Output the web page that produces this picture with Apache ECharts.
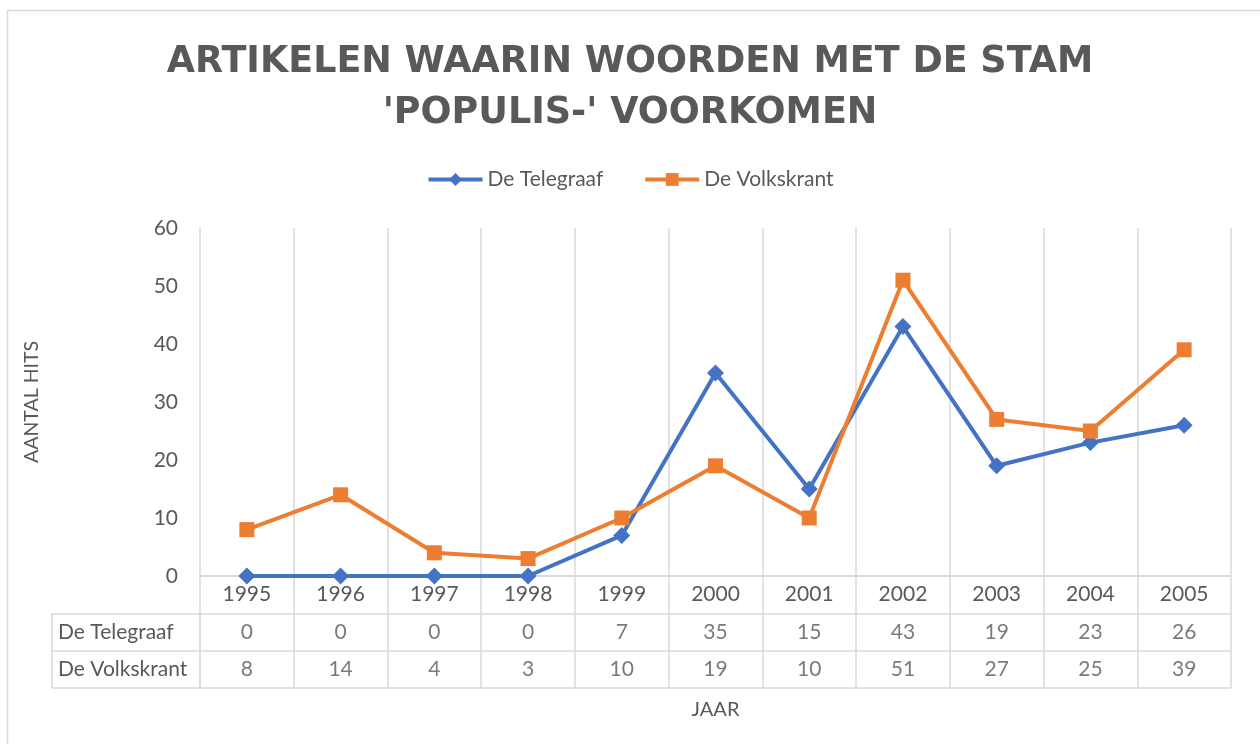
<!DOCTYPE html>
<html>
<head>
<meta charset="utf-8">
<script src="https://cdn.jsdelivr.net/npm/echarts@6/dist/echarts.min.js"></script>
<style>html,body{margin:0;padding:0;background:#fff}#c{width:1260px;height:744px}</style>
</head>
<body>
<div id="c"></div>
<script>
const years = ['1995','1996','1997','1998','1999','2000','2001','2002','2003','2004','2005'];
const telegraaf = [0,0,0,0,7,35,15,43,19,23,26];
const volkskrant = [8,14,4,3,10,19,10,51,27,25,39];
const seriesNames = ['De Telegraaf','De Volkskrant'];
const yTicks = {min:0, max:60, interval:10};
const titleText = "ARTIKELEN WAARIN WOORDEN MET DE STAM\n'POPULIS-' VOORKOMEN";

const FONT = 'Lato';
const TXT = '#595959';
const GRID = '#d9d9d9';
const BLUE = '#4472C4';
const ORANGE = '#ED7D31';
const FS = 21;

const chart = echarts.init(document.getElementById('c'), null, {renderer:'canvas'});
const tableTop = 576, tableH = 112;
chart.setOption({
  animation:false,
  backgroundColor:'#fff',
  textStyle:{fontFamily:FONT, color:TXT},
  graphic:[{type:'rect', shape:{x:7.5,y:10.5,width:1300,height:800}, style:{fill:'none', stroke:'#d9d9d9', lineWidth:1.5}, silent:true}],
  title:{text:titleText, left:'center', top:32, textStyle:{fontFamily:'DejaVu Sans', fontSize:36.5, fontWeight:'bold', color:TXT, lineHeight:51}},
  legend:{top:164, left:'center', itemWidth:54, itemHeight:16, itemGap:40,
    lineStyle:{width:4},
    textStyle:{fontFamily:FONT, fontSize:FS, color:TXT}, data:seriesNames},
  grid:[
    {left:200, right:29, top:228, height:348},
    {left:200, right:29, top:tableTop, height:tableH},
    {left:52, width:148, top:tableTop + tableH/3, height:tableH*2/3}
  ],
  xAxis:[
    {type:'category', gridIndex:0, data:years, boundaryGap:true,
      axisLine:{show:true, lineStyle:{color:GRID, width:1.5}}, axisTick:{show:false},
      axisLabel:{fontFamily:FONT, fontSize:FS, color:TXT, margin:8},
      splitLine:{show:true, lineStyle:{color:GRID, width:1.5}}},
    {type:'category', gridIndex:1, data:years, boundaryGap:true,
      axisLine:{show:false}, axisTick:{show:false}, axisLabel:{show:false},
      splitLine:{show:true, lineStyle:{color:GRID, width:1.5}},
      name:'JAAR', nameLocation:'middle', nameGap:12,
      nameTextStyle:{fontFamily:FONT, fontSize:20, color:TXT}},
    {type:'value', gridIndex:2, min:0, max:1, interval:1,
      axisLine:{show:false}, axisTick:{show:false}, axisLabel:{show:false},
      splitLine:{show:true, lineStyle:{color:GRID, width:1.5}}}
  ],
  yAxis:[
    {type:'value', gridIndex:0, min:yTicks.min, max:yTicks.max, interval:yTicks.interval,
      axisLine:{show:false}, axisTick:{show:false}, splitLine:{show:false},
      axisLabel:{fontFamily:FONT, fontSize:FS, color:TXT, margin:22},
      name:'AANTAL HITS', nameLocation:'middle', nameRotate:90, nameGap:158,
      nameTextStyle:{fontFamily:FONT, fontSize:19.5, color:TXT}},
    {type:'value', gridIndex:1, min:0, max:3, interval:1,
      axisLine:{show:false}, axisTick:{show:false}, axisLabel:{show:false},
      splitLine:{show:true, lineStyle:{color:GRID, width:1.5}}},
    {type:'category', gridIndex:2, data:seriesNames.slice().reverse(), boundaryGap:true,
      axisLine:{show:false}, axisTick:{show:false},
      axisLabel:{inside:true, margin:6, fontFamily:FONT, fontSize:FS, color:TXT},
      splitLine:{show:true, lineStyle:{color:GRID, width:1.5}}}
  ],
  series:[
    {name:seriesNames[0], type:'line', data:telegraaf, xAxisIndex:0, yAxisIndex:0,
      symbol:'diamond', symbolSize:17, showAllSymbol:true,
      lineStyle:{color:BLUE, width:4}, itemStyle:{color:BLUE}},
    {name:seriesNames[1], type:'line', data:volkskrant, xAxisIndex:0, yAxisIndex:0,
      symbol:'rect', symbolSize:15, showAllSymbol:true,
      lineStyle:{color:ORANGE, width:4}, itemStyle:{color:ORANGE}},
    {type:'scatter', xAxisIndex:1, yAxisIndex:1, symbolSize:0, silent:true,
      data:telegraaf.map((v,i)=>[i,1.5,v]),
      label:{show:true, position:'inside', formatter:p=>String(p.value[2]), fontFamily:FONT, fontSize:FS, color:TXT}},
    {type:'scatter', xAxisIndex:1, yAxisIndex:1, symbolSize:0, silent:true,
      data:volkskrant.map((v,i)=>[i,0.5,v]),
      label:{show:true, position:'inside', formatter:p=>String(p.value[2]), fontFamily:FONT, fontSize:FS, color:TXT}}
  ]
});
</script>
</body>
</html>
